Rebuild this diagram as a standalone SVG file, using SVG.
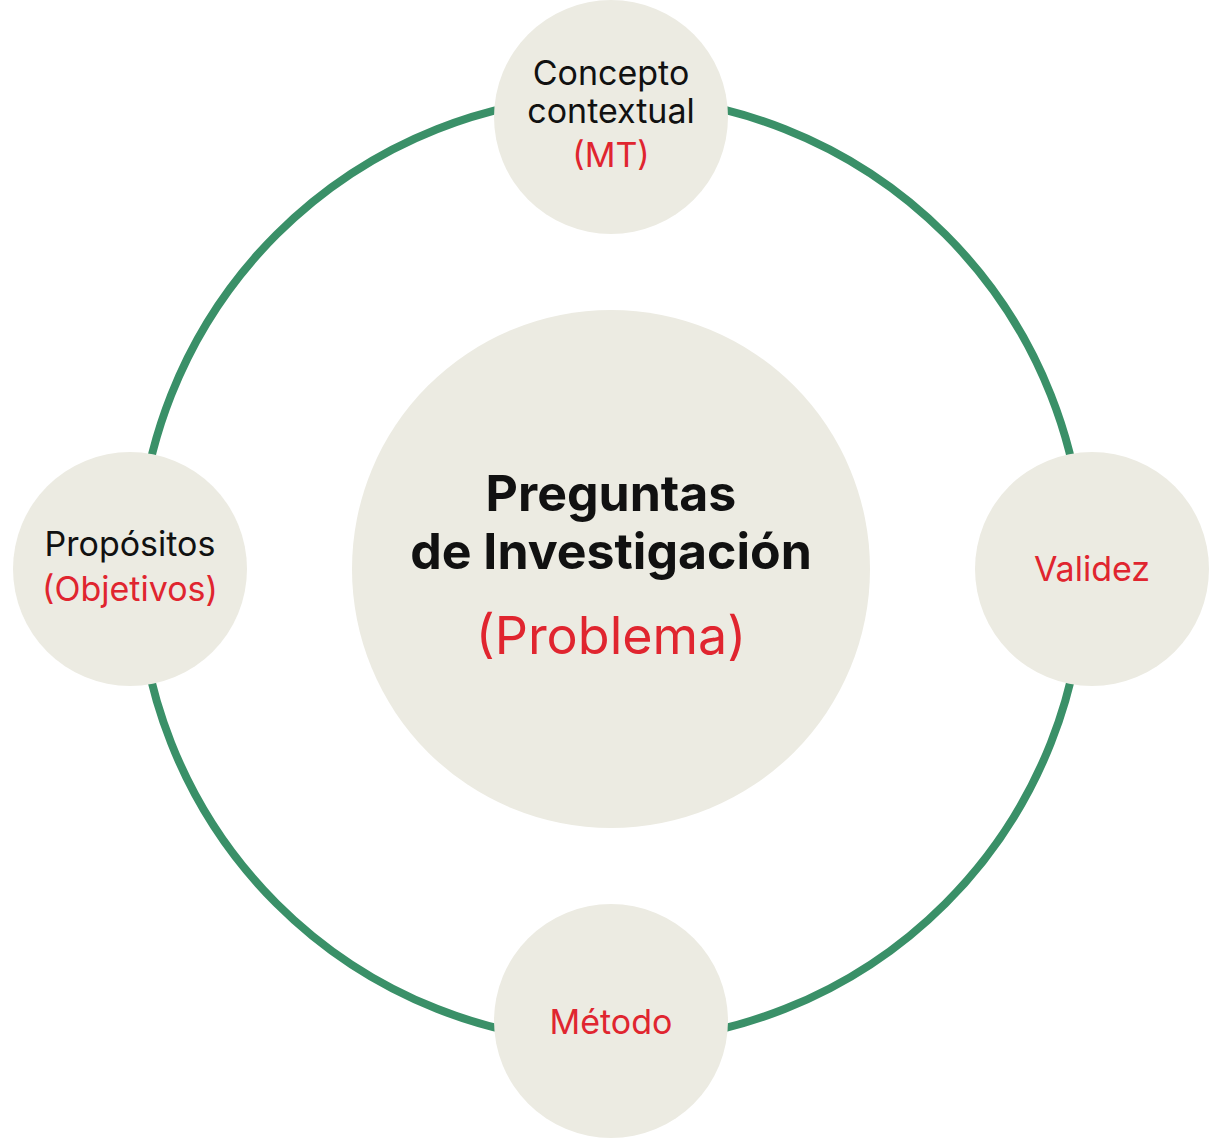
<svg xmlns="http://www.w3.org/2000/svg" width="1221" height="1138" viewBox="0 0 1221 1138">
<style>
.n{fill:#ecebe2}
text{font-family:Inter,"Noto Sans",sans-serif;text-anchor:middle;fill:#111}
.r{fill:#e0252f}
.s{font-size:34px}
</style>
<rect width="1221" height="1138" fill="#fff"/>
<g id="connectors"><circle cx="611" cy="569" r="473" fill="none" stroke="#3a9068" stroke-width="8"/></g>
<g id="center"><circle class="n" cx="611" cy="569" r="259"/>
<text x="611" y="511" font-size="50" font-weight="bold">Preguntas</text>
<text x="611" y="569" font-size="50" font-weight="bold">de Investigación</text>
<text x="611" y="654" font-size="52" class="r">(Problema)</text></g>
<g id="top"><circle class="n" cx="611" cy="117" r="117"/>
<text class="s" x="611" y="85">Concepto</text><text class="s" x="611" y="123">contextual</text><text class="s r" x="611" y="167">(MT)</text></g>
<g id="left"><circle class="n" cx="130" cy="569" r="117"/>
<text class="s" x="130" y="556">Propósitos</text><text class="s r" x="130" y="601">(Objetivos)</text></g>
<g id="right"><circle class="n" cx="1092" cy="569" r="117"/>
<text class="s r" x="1092" y="581">Validez</text></g>
<g id="bottom"><circle class="n" cx="611" cy="1021" r="117"/>
<text class="s r" x="611" y="1034">Método</text></g>
</svg>
